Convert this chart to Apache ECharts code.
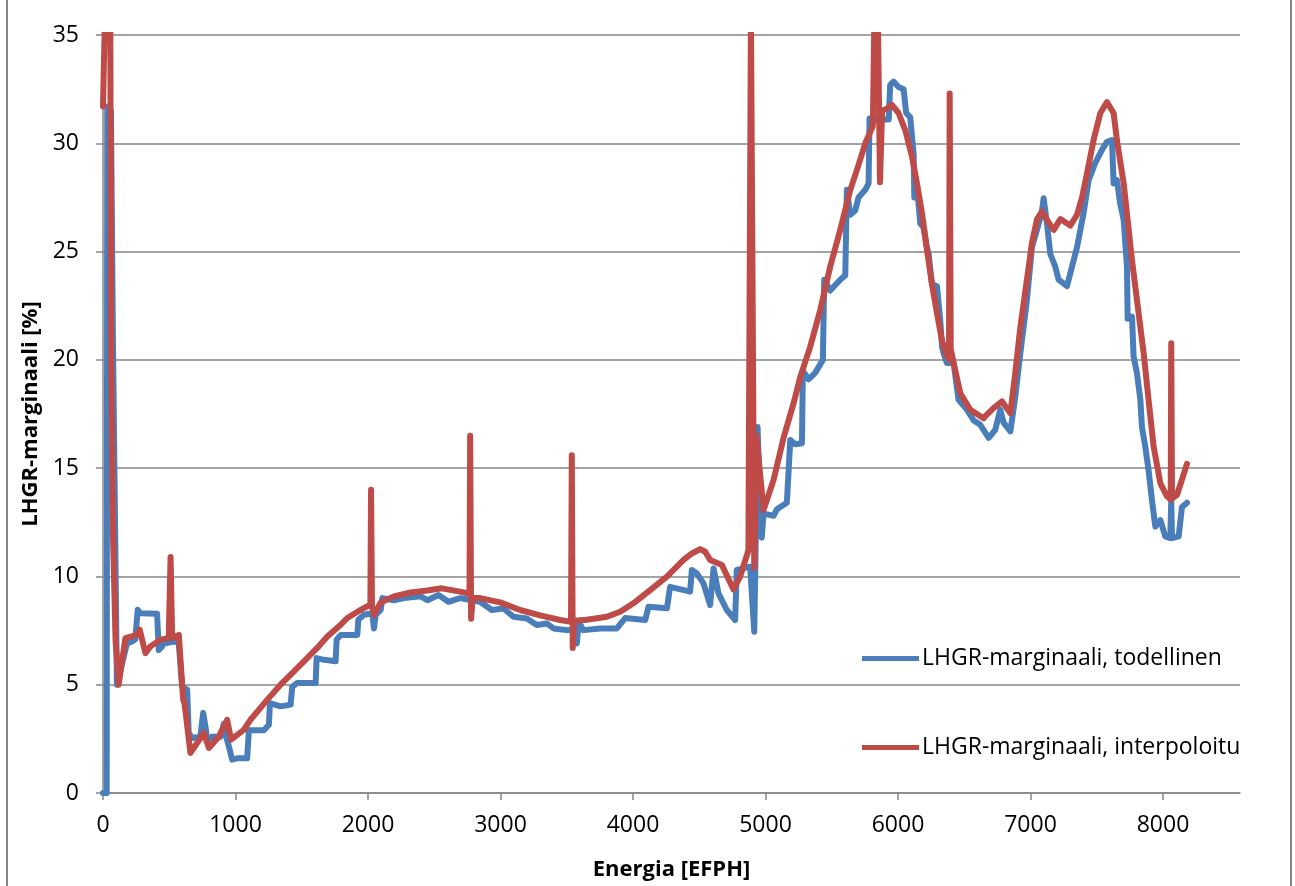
<!doctype html>
<html>
<head>
<meta charset="utf-8">
<title>LHGR-marginaali</title>
<style>
  html, body { margin: 0; padding: 0; background: #fff; }
  #main { width: 1295px; height: 886px; }
</style>
</head>
<body>
<div id="main"></div>
<script src="https://cdn.jsdelivr.net/npm/echarts@6/dist/echarts.min.js"></script>
<script>
// energia [EFPH] ja marginaali [%] luettu kuvasta
var xTicks = [0, 1000, 2000, 3000, 4000, 5000, 6000, 7000, 8000];

var todellinenX = [0, 28, 32, 60, 75, 105, 181, 219, 244, 262, 282, 408, 421, 446, 458, 547, 572, 597, 635, 647,
  673, 735, 756, 773, 786, 824, 887, 912, 932, 950, 975, 1013, 1088, 1101, 1214, 1252, 1260, 1340, 1416, 1428,
  1466, 1605, 1612, 1668, 1756, 1763, 1794, 1919, 1927, 1970, 2033, 2045, 2058, 2096, 2108, 2196, 2272, 2398, 2448, 2532,
  2607, 2695, 2783, 2846, 2934, 3022, 3098, 3199, 3274, 3349, 3400, 3500, 3560, 3576, 3590, 3626, 3752, 3878, 3941, 4092,
  4117, 4256, 4280, 4431, 4444, 4482, 4532, 4582, 4608, 4645, 4708, 4771, 4783, 4884, 4915, 4940, 4960, 4972, 4985, 5061,
  5086, 5161, 5187, 5224, 5275, 5282, 5325, 5375, 5433, 5443, 5488, 5564, 5602, 5614, 5640, 5677, 5702, 5753, 5778, 5785,
  5810, 5930, 5941, 5966, 6004, 6042, 6062, 6092, 6118, 6123, 6143, 6168, 6193, 6218, 6231, 6256, 6294, 6319, 6332, 6344,
  6369, 6420, 6457, 6520, 6571, 6621, 6684, 6734, 6772, 6797, 6848, 6885, 6923, 6973, 7011, 7049, 7086, 7099, 7124, 7149,
  7187, 7212, 7275, 7313, 7351, 7401, 7439, 7489, 7539, 7577, 7615, 7627, 7652, 7677, 7703, 7728, 7733, 7766, 7778, 7803,
  7829, 7841, 7866, 7891, 7917, 7942, 7980, 8017, 8055, 8062, 8068, 8118, 8143, 8181];
var todellinenY = [0, 0, 31.7, 31.5, 21.0, 5.0, 6.9, 7.0, 7.1, 8.46, 8.3, 8.28, 6.6, 6.77, 6.9, 7.0, 6.9, 4.9, 4.77, 2.77,
  2.54, 2.6, 3.7, 3.08, 2.46, 2.6, 2.6, 3.2, 2.54, 2.15, 1.54, 1.6, 1.6, 2.9, 2.9, 3.15, 4.15, 4.0, 4.08, 4.9,
  5.08, 5.08, 6.23, 6.15, 6.08, 7.08, 7.3, 7.3, 8.0, 8.23, 8.3, 7.6, 8.23, 8.46, 9.0, 8.9, 9.0, 9.08, 8.9, 9.14,
  8.83, 9.0, 8.9, 8.83, 8.45, 8.52, 8.14, 8.06, 7.76, 7.83, 7.6, 7.52, 7.55, 6.9, 7.9, 7.52, 7.6, 7.6, 8.08, 7.99,
  8.6, 8.53, 9.52, 9.3, 10.3, 10.14, 9.68, 8.68, 10.37, 9.22, 8.45, 7.99, 10.3, 10.45, 7.45, 16.9, 13.0, 11.8, 12.9, 12.8,
  13.1, 13.4, 16.3, 16.1, 16.15, 19.5, 19.1, 19.4, 20.0, 23.7, 23.2, 23.7, 23.9, 27.85, 26.7, 26.9, 27.5, 27.85, 28.15, 31.15,
  31.1, 31.1, 32.7, 32.85, 32.6, 32.5, 31.4, 31.2, 29.5, 27.5, 28.0, 26.3, 26.1, 25.2, 24.9, 23.5, 23.4, 21.8, 20.6, 20.3,
  19.85, 19.85, 18.15, 17.7, 17.2, 17.0, 16.4, 16.77, 17.7, 17.1, 16.7, 18.3, 20.3, 22.77, 25.2, 26.0, 26.85, 27.46, 26.3, 24.9,
  24.3, 23.7, 23.4, 24.3, 25.2, 26.8, 28.3, 29.1, 29.7, 30.07, 30.15, 28.15, 28.3, 27.2, 26.46, 24.3, 21.9, 22.0, 20.15, 19.4,
  18.15, 16.9, 16.0, 14.9, 13.5, 12.3, 12.6, 11.85, 11.77, 13.5, 11.77, 11.85, 13.2, 13.4];

var interpoloituX = [0, 15, 55, 62, 75, 95, 118, 169, 257, 277, 320, 358, 433, 496, 510, 522, 572, 605, 615, 660,
  761, 799, 874, 937, 967, 1063, 1113, 1239, 1340, 1479, 1617, 1693, 1794, 1844, 1945, 2018, 2023, 2030, 2045, 2096,
  2196, 2322, 2448, 2557, 2695, 2766, 2771, 2778, 2790, 2846, 2997, 3148, 3299, 3450, 3532, 3538, 3545, 3555, 3651, 3803,
  3903, 4003, 4129, 4256, 4381, 4444, 4507, 4545, 4582, 4671, 4758, 4809, 4871, 4890, 4905, 4915, 4932, 4985, 5061, 5136,
  5212, 5262, 5337, 5413, 5488, 5564, 5640, 5690, 5753, 5810, 5822, 5848, 5864, 5880, 5916, 5954, 6004, 6055, 6105, 6143,
  6181, 6218, 6256, 6294, 6332, 6360, 6385, 6390, 6398, 6420, 6470, 6545, 6646, 6659, 6721, 6785, 6848, 6885, 6923, 6973,
  7011, 7049, 7086, 7124, 7175, 7225, 7300, 7351, 7389, 7426, 7476, 7527, 7577, 7627, 7652, 7703, 7766, 7816, 7854, 7891,
  7929, 7980, 8030, 8058, 8062, 8068, 8106, 8181];
var interpoloituY = [31.7, 36, 36, 20, 12, 7, 5.0, 7.15, 7.3, 7.54, 6.46, 6.77, 7.08, 7.15, 10.9, 7.15, 7.3, 4.3, 4.15, 1.85,
  2.77, 2.08, 2.6, 3.38, 2.46, 2.92, 3.38, 4.3, 5.0, 5.85, 6.7, 7.23, 7.77, 8.08, 8.46, 8.7, 14.0, 8.6, 8.23, 8.8,
  9.08, 9.26, 9.35, 9.45, 9.3, 9.2, 16.5, 8.05, 9.0, 9.0, 8.8, 8.45, 8.2, 7.99, 7.9, 15.6, 6.7, 7.95, 8.0, 8.14,
  8.37, 8.76, 9.37, 9.99, 10.76, 11.06, 11.26, 11.14, 10.76, 10.53, 9.4, 10.0, 11.2, 36, 36, 10.4, 16.5, 13.07, 14.46, 16.4,
  18.0, 19.2, 20.6, 22.3, 24.3, 26.0, 27.85, 28.77, 30.0, 30.8, 36, 36, 28.2, 31.5, 31.6, 31.77, 31.4, 30.6, 29.4, 28.15,
  26.77, 25.1, 23.5, 22.15, 20.9, 20.3, 20.0, 32.3, 20.5, 19.85, 18.46, 17.7, 17.3, 17.4, 17.77, 18.08, 17.54, 19.4, 21.5, 23.7,
  25.4, 26.5, 26.85, 26.46, 26.0, 26.5, 26.2, 26.7, 27.5, 28.6, 30.15, 31.4, 31.9, 31.4, 30.15, 28.15, 24.6, 22.15, 20.3, 18.15,
  16.0, 14.3, 13.7, 13.55, 20.77, 13.6, 13.77, 15.2];

function pairs(xs, ys) {
  return xs.map(function (x, i) { return [x, ys[i]]; });
}

var chart = echarts.init(document.getElementById('main'));
var font = 'Open Sans';
var gray = '#868686';

chart.setOption({
  animation: false,
  grid: { left: 103, right: 55, top: 35, bottom: 93 },
  graphic: [
    { type: 'line', shape: { x1: 7, y1: 0, x2: 7, y2: 886 }, style: { stroke: gray, lineWidth: 2 } },
    { type: 'line', shape: { x1: 1291, y1: 0, x2: 1291, y2: 886 }, style: { stroke: gray, lineWidth: 2 } }
  ],
  legend: [
    {
      data: ['LHGR-marginaali, todellinen'],
      left: 857, top: 642, icon: 'rect', itemWidth: 57, itemHeight: 5, itemGap: 0,
      textStyle: { fontFamily: font, fontSize: 23, color: '#000', padding: [0, 0, 0, -2] }
    },
    {
      data: ['LHGR-marginaali, interpoloitu'],
      left: 857, top: 731, icon: 'rect', itemWidth: 57, itemHeight: 5, itemGap: 0,
      textStyle: { fontFamily: font, fontSize: 23, color: '#000', padding: [0, 0, 0, -2] }
    }
  ],
  xAxis: {
    type: 'value', min: 0, max: 8581, interval: 1000,
    name: 'Energia [EFPH]', nameLocation: 'middle', nameGap: 66,
    nameTextStyle: { fontFamily: font, fontSize: 22, fontWeight: 'bold', color: '#000' },
    axisLine: { lineStyle: { color: gray, width: 1.5 } },
    axisTick: { show: true, length: 7, lineStyle: { color: gray, width: 1.5 }, customValues: xTicks },
    axisLabel: {
      fontFamily: font, fontSize: 23, color: '#000', margin: 21, customValues: xTicks,
      formatter: function (v) { return String(v); }
    },
    splitLine: { show: false }
  },
  yAxis: {
    type: 'value', min: 0, max: 35, interval: 5,
    name: 'LHGR-marginaali [%]', nameLocation: 'middle', nameGap: 61,
    nameTextStyle: { fontFamily: font, fontSize: 22, fontWeight: 'bold', color: '#000' },
    axisLine: { show: true, lineStyle: { color: gray, width: 1.5 } },
    axisTick: { show: true, length: 7, lineStyle: { color: gray, width: 1.5 } },
    axisLabel: { fontFamily: font, fontSize: 23, color: '#000', margin: 24 },
    splitLine: { lineStyle: { color: gray, width: 1.5 } }
  },
  series: [
    {
      name: 'LHGR-marginaali, todellinen', type: 'line', showSymbol: false, clip: true,
      color: '#4A7EBB',
      lineStyle: { width: 6, color: '#4A7EBB', join: 'round', cap: 'round' },
      data: pairs(todellinenX, todellinenY)
    },
    {
      name: 'LHGR-marginaali, interpoloitu', type: 'line', showSymbol: false, clip: true,
      color: '#BE4B48',
      lineStyle: { width: 6, color: '#BE4B48', join: 'round', cap: 'round' },
      data: pairs(interpoloituX, interpoloituY)
    }
  ]
});

window.onresize = chart.resize;
</script>
</body>
</html>
